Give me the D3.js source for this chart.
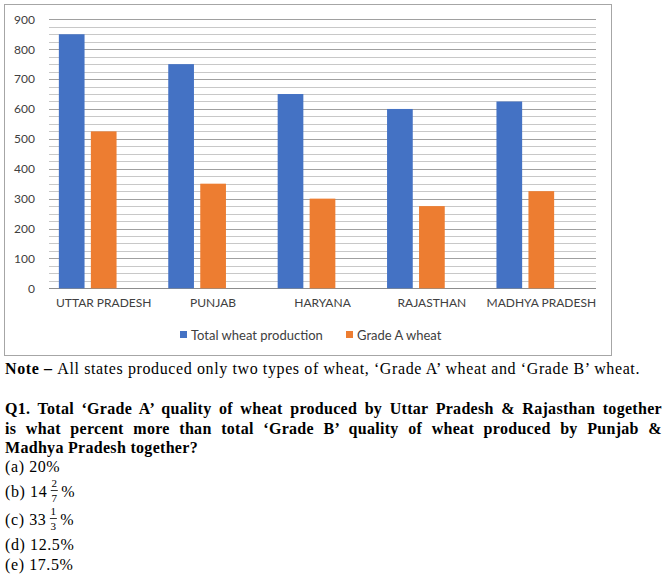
<!DOCTYPE html>
<html><head><meta charset="utf-8">
<script src="https://cdn.jsdelivr.net/npm/d3@7"></script>
<style>
body{margin:0;background:#fff;}
svg{display:block;}
</style></head>
<body>
<svg id="c" width="667" height="578"></svg>
<script>
const states = ["UTTAR PRADESH","PUNJAB","HARYANA","RAJASTHAN","MADHYA PRADESH"];
const totalProduction = [850,750,650,600,625];
const gradeA = [525,350,300,275,325];
const seriesSlots = ["Total wheat production","Grade A wheat","(empty)"];
const seriesColors = ["#4472c4","#ed7d31"];
const yTicks = [0,100,200,300,400,500,600,700,800,900];
const minorStep = 25;

(function(){
const svg = d3.select("#c");
const chartFont = "Lato, 'Open Sans', sans-serif";
const textFont = "'Liberation Serif', 'DejaVu Serif', serif";

svg.append("rect").attr("x",4.5).attr("y",4.5).attr("width",607).attr("height",351)
  .attr("fill","#fff").attr("stroke","#a6a6a6").attr("stroke-width",1);

const pL=49,pR=596,pT=19.3,pB=288.3;
const y = d3.scaleLinear().domain([0,900]).range([pB,pT]);
const x = d3.scaleBand().domain(states).range([pL,pR]).padding(0);
const xs = d3.scaleBand().domain(seriesSlots).range([0,x.bandwidth()]).paddingInner(0.197).paddingOuter(0.308);

const minor = d3.range(0,901,minorStep).filter(v=>v%100!==0);
svg.append("g").selectAll("line").data(minor).join("line")
  .attr("x1",pL).attr("x2",pR)
  .attr("y1",d=>Math.round(y(d))+0.5).attr("y2",d=>Math.round(y(d))+0.5)
  .attr("stroke","#c8c8c8").attr("stroke-width",1);
svg.append("g").selectAll("line").data(yTicks).join("line")
  .attr("x1",pL).attr("x2",pR)
  .attr("y1",d=>Math.round(y(d))+0.5).attr("y2",d=>Math.round(y(d))+0.5)
  .attr("stroke",d=>d===0?"#8c8c8c":"#a0a0a0").attr("stroke-width",1);

const yAxis = d3.axisLeft(y).tickValues(yTicks).tickSize(0).tickPadding(0);
const gy = svg.append("g").attr("transform",`translate(35,0)`).call(yAxis);
gy.select(".domain").remove();
gy.selectAll("text").attr("font-family",chartFont).attr("font-size",12).attr("fill","#404040");

const rows = states.map((s,i)=>({state:s, vals:[totalProduction[i],gradeA[i]]}));
rows.forEach(r=>{
  r.vals.forEach((v,j)=>{
    svg.append("rect")
      .attr("x",x(r.state)+xs(seriesSlots[j]))
      .attr("width",xs.bandwidth())
      .attr("y",y(v)).attr("height",y(0)-y(v))
      .attr("fill",seriesColors[j]);
  });
});

const xAxis = d3.axisBottom(x).tickSize(0).tickPadding(0);
const gx = svg.append("g").attr("transform",`translate(0,${pB+10})`).call(xAxis);
gx.select(".domain").remove();
gx.selectAll("text").attr("font-family",chartFont).attr("font-size",12).attr("fill","#404040").attr("dy","0.71em");

const legendX=[180,346];
seriesSlots.slice(0,2).forEach((s,i)=>{
  svg.append("rect").attr("x",legendX[i]).attr("y",331).attr("width",7).attr("height",7).attr("fill",seriesColors[i]);
  svg.append("text").attr("x",legendX[i]+11).attr("y",339.5).text(s)
    .attr("font-family",chartFont).attr("font-size",13).attr("fill","#404040");
});

function addLine(parts, yb, opts={}){
  const t = svg.append("text").attr("x",5).attr("y",yb)
    .attr("font-family",textFont).attr("font-size",16).attr("fill","#000")
    .attr("letter-spacing",opts.ls!=null?opts.ls:0.6);
  parts.forEach(p=>{
    t.append("tspan").text(p.t).attr("font-weight",p.b?"bold":"normal");
  });
  const txt = parts.map(p=>p.t).join("");
  const spaces = (txt.match(/ /g)||[]).length;
  if(opts.fit){
    const len = t.node().getComputedTextLength();
    t.attr("letter-spacing",(opts.ls||0)+(opts.fit-len)/txt.length);
  }
  if(opts.justify){
    const len = t.node().getComputedTextLength();
    t.attr("word-spacing",(opts.justify-len)/spaces);
  }
  return t;
}
addLine([{t:"Note – ",b:true},{t:"All states produced only two types of wheat, ‘Grade A’ wheat and ‘Grade B’ wheat."}],374,{ls:0,fit:635});
addLine([{t:"Q1. Total ‘Grade A’ quality of wheat produced by Uttar Pradesh & Rajasthan together",b:true}],414,{ls:0.3,justify:657});
addLine([{t:"is what percent more than total ‘Grade B’ quality of wheat produced by Punjab &",b:true}],434,{ls:0.3,justify:657});
addLine([{t:"Madhya Pradesh together?",b:true}],453,{ls:0.3});
addLine([{t:"(a) 20%"}],472);

function fracLine(label, whole, num, den, yb){
  const t = addLine([{t:label+" "+whole}],yb);
  const w = t.node().getComputedTextLength();
  const fx = 5+w+7;
  svg.append("text").attr("x",fx).attr("y",yb-10.5).attr("text-anchor","middle")
    .attr("font-family",textFont).attr("font-size",11).text(num);
  svg.append("line").attr("x1",fx-3.5).attr("x2",fx+3.5).attr("y1",yb-6.5).attr("y2",yb-6.5)
    .attr("stroke","#000").attr("stroke-width",0.8);
  svg.append("text").attr("x",fx).attr("y",yb+4.5).attr("text-anchor","middle")
    .attr("font-family",textFont).attr("font-size",11).text(den);
  svg.append("text").attr("x",fx+7).attr("y",yb).attr("font-family",textFont).attr("font-size",16)
    .attr("letter-spacing",0.6).text("%");
}
fracLine("(b)","14","2","7",497);
fracLine("(c)","33","1","3",525);
addLine([{t:"(d) 12.5%"}],550);
addLine([{t:"(e) 17.5%"}],570);
})();
</script>
</body></html>
